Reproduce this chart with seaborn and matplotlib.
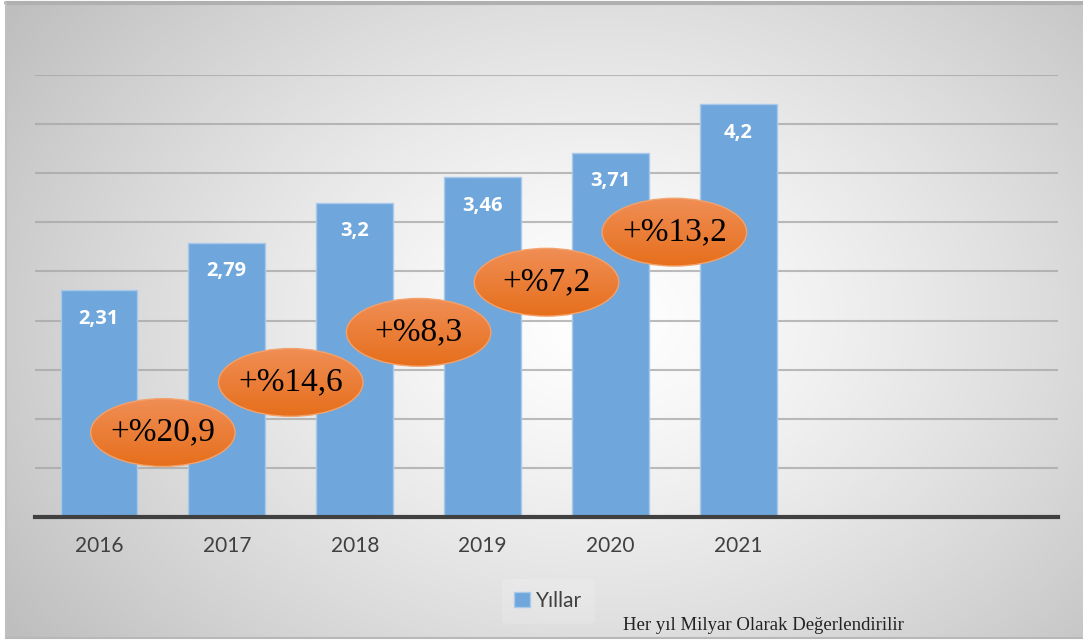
import numpy as np
import pandas as pd
import seaborn as sns
import matplotlib.pyplot as plt
from matplotlib.patches import Ellipse, Patch

# data
years = ['2016', '2017', '2018', '2019', '2020', '2021']
values = [2.31, 2.79, 3.2, 3.46, 3.71, 4.2]
value_labels = ['2,31', '2,79', '3,2', '3,46', '3,71', '4,2']
growth_labels = ['+%20,9', '+%14,6', '+%8,3', '+%7,2', '+%13,2']
legend_label = 'Yıllar'
footnote = 'Her yıl Milyar Olarak Değerlendirilir'

df = pd.DataFrame({'year': years, 'value': values})

sns.set_theme(style='white')
plt.rcParams['font.family'] = ['Lato', 'DejaVu Sans']

W, H = 1083, 641
fig = plt.figure(figsize=(W / 100, H / 100), dpi=100)
fig.patch.set_facecolor('white')

# radial grey background
bg = fig.add_axes([6 / W, 3 / H, 1 - 6 / W, 1 - 6 / H], zorder=-10)
xx, yy = np.meshgrid(np.linspace(6, W, 400), np.linspace(3, H - 3, 300))
d = np.sqrt(((xx - 600) / 640) ** 2 + ((yy - 320) / 470) ** 2)
shade = np.clip(255 - 55 * d ** 1.3, 190, 255) / 255
bg.imshow(np.dstack([shade] * 3), extent=[0, 1, 0, 1], aspect='auto', origin='upper')
bg.set_axis_off()
bg.plot([0, 1], [1, 1], color='#b0b0b0', lw=3, transform=bg.transAxes, clip_on=False)
bg.plot([0, 0], [0, 1], color='#c0c0c0', lw=1.5, transform=bg.transAxes, clip_on=False)
bg.plot([0, 1], [0, 0], color='#b8b8b8', lw=1.5, transform=bg.transAxes, clip_on=False)

ax = fig.add_axes([35 / W, 1 - 517 / H, (1058 - 35) / W, (517 - 75) / H])
ax.set_facecolor('none')

sns.barplot(data=df, x='year', y='value', order=years, color='#6fa6db',
            width=0.6, edgecolor='#a8c9ea', linewidth=1, saturation=1,
            ax=ax, zorder=2)

ax.set_xlim(-0.5, 7.5)
ax.set_ylim(0, 4.5)
ax.set_yticks(np.arange(0.5, 4.51, 0.5))
ax.set_yticklabels([])
ax.tick_params(axis='y', length=0)
ax.tick_params(axis='x', length=0, labelsize=15, labelcolor='#404040', pad=14)
ax.set_xlabel('')
ax.set_ylabel('')
for s in ['top', 'right', 'left']:
    ax.spines[s].set_visible(False)
ax.spines['bottom'].set_color('#404040')
ax.spines['bottom'].set_linewidth(3)
ax.spines['bottom'].set_zorder(5)
ax.yaxis.grid(True, color='#a6a6a6', lw=1.5, alpha=0.75, zorder=0)
ax.set_axisbelow(True)

# value labels inside bars
for i, (v, lab) in enumerate(zip(values, value_labels)):
    ax.text(i, v - 0.29, lab, ha='center', va='center', color='white',
            fontsize=14.5, fontweight='bold', family=['Open Sans', 'DejaVu Sans'],
            zorder=4)

# orange growth ellipses between bars
grad = np.linspace(0, 1, 100).reshape(-1, 1)
top_c = np.array([0xf0, 0x8e, 0x55]) / 255
bot_c = np.array([0xe6, 0x6f, 0x1c]) / 255
grad_img = top_c * (1 - grad[..., None]) + bot_c * grad[..., None]
grad_img = np.repeat(grad_img, 2, axis=1)
ew, eh = 1.13, 0.69
for i, g in enumerate(growth_labels):
    cx, cy = i + 0.5, 0.86 + 0.51 * i
    e = Ellipse((cx, cy), ew, eh, facecolor='none', edgecolor='#f3a26c',
                lw=1, zorder=7)
    ax.add_patch(e)
    im = ax.imshow(grad_img, extent=[cx - ew / 2, cx + ew / 2, cy - eh / 2, cy + eh / 2],
                   aspect='auto', origin='upper', zorder=6)
    im.set_clip_path(e)
    ax.text(cx, cy, g, ha='center', va='center', fontsize=24, color='black',
            family=['Liberation Serif', 'DejaVu Serif'], zorder=8)

ax.set_xlim(-0.5, 7.5)
ax.set_ylim(0, 4.5)

fig.legend(handles=[Patch(facecolor='#6fa6db', edgecolor='#a8c9ea', label=legend_label)],
           loc='center', bbox_to_anchor=(548 / W, 1 - 601 / H), frameon=True,
           facecolor='white', framealpha=0.15, edgecolor='none', fontsize=15,
           handlelength=0.75, handleheight=0.75, handletextpad=0.3,
           labelcolor='#404040', borderpad=0.6)

fig.text(623 / W, 1 - 626 / H, footnote, ha='left', va='center', fontsize=13.5,
         color='#222222', family=['Liberation Serif', 'DejaVu Serif'])

fig.savefig('out.png', dpi=100)
